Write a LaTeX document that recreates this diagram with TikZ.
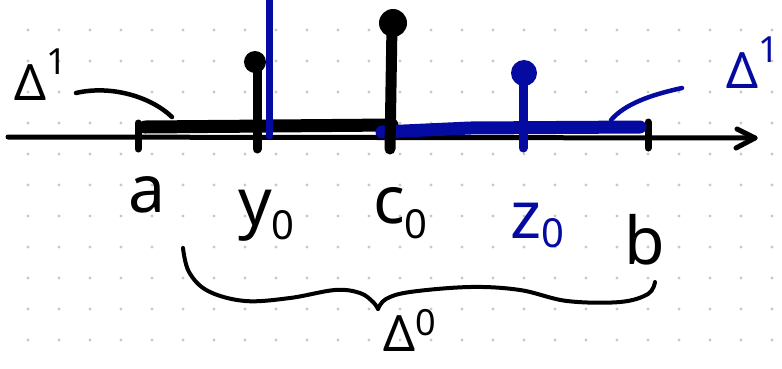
\documentclass[tikz,border=0pt]{standalone}
\usepackage{fontspec}
\setmainfont{Noto Sans}
\definecolor{penblack}{RGB}{0,0,0}
\definecolor{penblue}{RGB}{5,10,160}
\definecolor{griddot}{RGB}{200,200,200}
\newcommand\lsub[2]{\raisebox{-#1pt}{\fontsize{40}{40}\selectfont #2}}
\newcommand\lsup[2]{\raisebox{#1pt}{\fontsize{36}{36}\selectfont #2}}
\tikzset{
  ink/.style={line cap=round, line join=round},
  axisline/.style={ink, line width=5pt, penblack},
  tickmark/.style={ink, line width=7pt},
  bar/.style={ink, line width=13pt},
  stem/.style={ink, line width=9pt},
  leader/.style={ink, line width=4.5pt},
  bracepen/.style={ink, line width=4pt, penblack},
  lab/.style={inner sep=0pt, anchor=base west, font=\fontsize{66}{66}\selectfont},
  dlab/.style={inner sep=0pt, anchor=base west, font=\fontsize{50}{50}\selectfont},
}
\begin{document}
\begin{tikzpicture}[x=1pt,y=-1pt]
\useasboundingbox[fill=white] (0,0) rectangle (782,368);
% dot grid
\foreach \i in {0,...,24}{
  \foreach \j in {1,...,11}{
    \fill[griddot] ({28+31*\i},{-1+31*\j}) circle (1.6);
  }
}
% axis
\coordinate (ax0) at (8,137);
\coordinate (ax1) at (755,138);
\draw[axisline] (ax0) -- (ax1);
\draw[axisline] (737,129) -- (ax1) -- (736,148);
% ticks
\coordinate (ta) at (138,137);
\coordinate (tb) at (648,137);
\draw[tickmark,penblack] (138,123) -- (138,149);
\draw[tickmark,penblack] (648,122) -- (648,148);
% black interval
\draw[bar,penblack] (145,127) -- (270,126) -- (392,125);
% blue interval
\draw[bar,penblue] (382,132) -- (470,128) -- (640,127);
% blue vertical line
\draw[ink,line width=7pt,penblue] (269,0) -- (269,136);
% stems
\draw[stem,penblack] (257,149) -- (257,62);
\fill[penblack] (255,62) circle (11);
\draw[ink,line width=11pt,penblack] (390,149) -- (392,25);
\fill[penblack] (393,23) circle (14);
\draw[stem,penblue] (523,148) -- (523,74);
\fill[penblue] (524,73) circle (13);
% axis labels
\node[lab] (la) at (128,212) {a};
\node[lab] (ly) at (238,225) {y\lsub{14}{0}};
\node[lab] (lc) at (373,223) {c\lsub{15}{0}};
\node[lab,penblue] (lz) at (510,238) {z\lsub{9}{0}};
\node[lab] (lb) at (624,264) {b};
% Delta labels
\node[dlab] (d1) at (14,100) {Δ\lsup{26}{1}};
\node[dlab,penblue] (d2) at (726,88) {Δ\lsup{26}{1}};
\node[dlab] (d0) at (383,351) {Δ\lsup{16}{0}};
% leaders
\coordinate (l1s) at (76,93);
\coordinate (l1e) at (172,117);
\draw[leader,penblack] (l1s) .. controls (110,85) and (150,96) .. (l1e);
\coordinate (l2s) at (682,88);
\coordinate (l2e) at (611,120);
\draw[leader,penblue] (l2s) .. controls (650,95) and (625,104) .. (l2e);
% brace
\draw[bracepen] plot[smooth,tension=0.6] coordinates {(183,248) (189,272) (208,291) (245,301) (290,298) (335,290) (360,293) (373,302) (378,309)};
\draw[bracepen] plot[smooth,tension=0.6] coordinates {(378,309) (386,299) (410,292) (470,287) (520,290) (567,301) (620,302) (648,294) (655,282)};
\end{tikzpicture}
\end{document}
